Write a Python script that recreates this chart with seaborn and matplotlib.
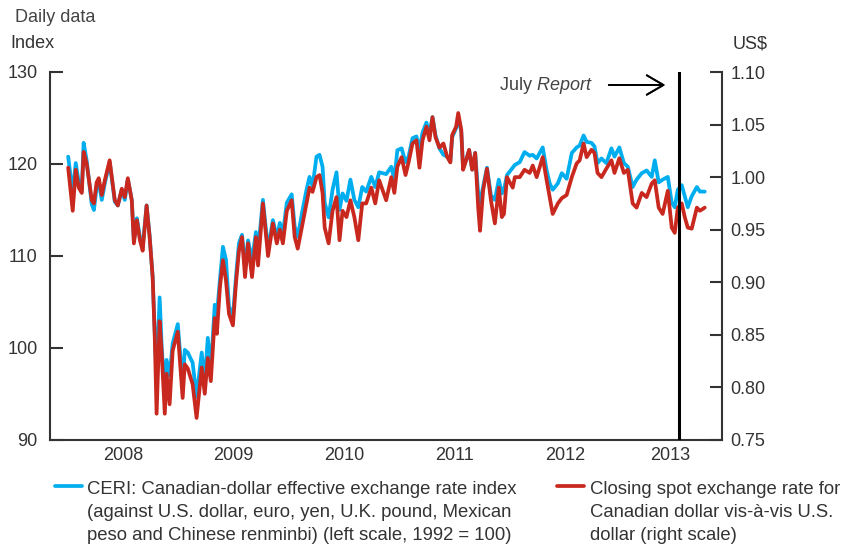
import numpy as np
import pandas as pd
import seaborn as sns
import matplotlib.pyplot as plt
import matplotlib.dates as mdates
from matplotlib.legend_handler import HandlerLine2D
from matplotlib.ticker import FixedLocator, FixedFormatter, NullFormatter, FormatStrFormatter

# values (roughly every 1-2 weeks)
dates = [
    '2008-01-02', '2008-01-17', '2008-01-27', '2008-02-06', '2008-02-16', '2008-02-22', '2008-03-03', '2008-03-20',
    '2008-03-27', '2008-04-05', '2008-04-12', '2008-04-22', '2008-05-02', '2008-05-18', '2008-06-04', '2008-06-14',
    '2008-06-27', '2008-07-07', '2008-07-17', '2008-07-30', '2008-08-06', '2008-08-16', '2008-08-26', '2008-09-04',
    '2008-09-17', '2008-09-27', '2008-10-07', '2008-10-14', '2008-10-20', '2008-10-30', '2008-11-06', '2008-11-16',
    '2008-11-22', '2008-12-02', '2008-12-12', '2008-12-29',
    '2009-01-14', '2009-01-21', '2009-01-31', '2009-02-16', '2009-03-01', '2009-03-18', '2009-03-28', '2009-04-07',
    '2009-04-17', '2009-04-30', '2009-05-07', '2009-05-17', '2009-05-27', '2009-06-06', '2009-06-16', '2009-06-29',
    '2009-07-09', '2009-07-19', '2009-07-29', '2009-08-08', '2009-08-18', '2009-08-31', '2009-09-13', '2009-09-20',
    '2009-10-06', '2009-10-23', '2009-11-08', '2009-11-21', '2009-12-01', '2009-12-11', '2009-12-24',
    '2010-01-09', '2010-01-19', '2010-01-29', '2010-02-14', '2010-02-27', '2010-03-09', '2010-03-19', '2010-04-01',
    '2010-04-11', '2010-04-21', '2010-04-28', '2010-05-11', '2010-05-24', '2010-06-06', '2010-06-16', '2010-06-26',
    '2010-07-09', '2010-07-22', '2010-08-04', '2010-08-17', '2010-08-30', '2010-09-12', '2010-09-29', '2010-10-12',
    '2010-10-25', '2010-11-17', '2010-12-04', '2010-12-14', '2010-12-24',
    '2011-01-07', '2011-01-20', '2011-01-30', '2011-02-12', '2011-02-25', '2011-03-07', '2011-03-17', '2011-03-30',
    '2011-04-09', '2011-04-19', '2011-04-29', '2011-05-12', '2011-05-25', '2011-06-07', '2011-06-17', '2011-06-23',
    '2011-07-06', '2011-07-13', '2011-07-23', '2011-07-29', '2011-08-08', '2011-08-18', '2011-08-28', '2011-09-07',
    '2011-09-17', '2011-09-23', '2011-10-03', '2011-10-16', '2011-10-29', '2011-11-11', '2011-11-24', '2011-12-04',
    '2011-12-11', '2011-12-21',
    '2012-01-09', '2012-01-16', '2012-02-01', '2012-02-17', '2012-03-05', '2012-03-15', '2012-03-28', '2012-04-17',
    '2012-04-30', '2012-05-10', '2012-05-20', '2012-06-06', '2012-06-19', '2012-07-05', '2012-07-22', '2012-08-07',
    '2012-08-17', '2012-08-30', '2012-09-09', '2012-09-25', '2012-10-05', '2012-10-15', '2012-10-28', '2012-11-13',
    '2012-11-30', '2012-12-10', '2012-12-26',
    '2013-01-10', '2013-01-23', '2013-02-08', '2013-02-21', '2013-03-10', '2013-03-26', '2013-04-12', '2013-04-22',
    '2013-05-05', '2013-05-18', '2013-06-04', '2013-06-17', '2013-06-27', '2013-07-07', '2013-07-20', '2013-07-30',
    '2013-08-09', '2013-08-22', '2013-09-08', '2013-09-18', '2013-10-04',
]

ceri = [
    120.8, 116.8, 120.1, 118.0, 117.2, 122.3, 120.4, 115.6, 115.0, 117.5, 118.0, 116.1, 117.9, 120.2, 115.9, 115.5,
    117.2, 116.1, 118.3, 116.1, 111.7, 114.1, 112.0, 111.0, 115.5, 112.2, 107.7, 101.6, 96.5, 105.5, 100.1, 95.1,
    98.7, 97.0, 100.5, 102.6,
    96.0, 99.8, 99.5, 98.4, 94.7, 99.5, 96.2, 101.1, 97.6, 104.7, 103.5, 107.4, 111.0, 109.6, 104.5, 103.4,
    107.7, 111.4, 112.3, 108.8, 111.7, 109.5, 112.6, 110.5, 116.1, 110.7, 113.9, 112.0, 113.6, 112.4, 115.8,
    116.7, 113.2, 112.1, 115.0, 117.2, 118.6, 117.6, 120.8, 121.0, 119.7, 115.8, 114.2, 117.2, 119.1, 115.0,
    116.8, 116.0, 118.3, 116.1, 115.3, 117.5, 117.0, 118.6, 117.5, 119.1, 118.9, 119.7, 118.3, 121.5,
    121.7, 120.2, 120.8, 122.8, 123.0, 121.5, 123.4, 124.5, 123.2, 125.1, 123.1, 121.7, 121.0, 120.8, 120.3,
    122.9, 123.9, 125.1, 123.5, 119.6, 120.4, 121.5, 119.4, 121.2, 116.8, 115.8, 117.5, 119.6, 116.6, 116.1,
    118.3, 116.8, 117.2, 118.8,
    119.6, 119.9, 120.2, 121.3, 120.9, 121.0, 120.6, 121.8, 119.3, 117.9, 117.2, 117.9, 119.0, 118.4, 121.2,
    121.8, 122.0, 123.1, 122.4, 122.3, 121.9, 120.1, 120.6, 120.1, 121.7, 120.8, 121.8,
    120.1, 119.7, 117.5, 118.3, 119.0, 119.3, 118.6, 120.4, 118.0, 118.3, 118.6, 115.8, 115.3, 117.2, 117.7,
    116.5, 115.3, 116.5, 117.5, 117.0, 117.0,
]

spot = [
    1.009, 0.968, 1.007, 0.990, 0.985, 1.024, 1.013, 0.978, 0.975, 0.995, 0.999, 0.983, 0.997, 1.016, 0.978, 0.973,
    0.989, 0.981, 0.999, 0.978, 0.937, 0.959, 0.940, 0.930, 0.973, 0.943, 0.905, 0.847, 0.775, 0.863, 0.832, 0.775,
    0.813, 0.784, 0.835, 0.853,
    0.790, 0.822, 0.818, 0.803, 0.771, 0.819, 0.794, 0.828, 0.806, 0.866, 0.851, 0.895, 0.921, 0.902, 0.870, 0.859,
    0.899, 0.930, 0.943, 0.905, 0.937, 0.905, 0.943, 0.916, 0.975, 0.925, 0.956, 0.937, 0.950, 0.937, 0.968,
    0.978, 0.943, 0.932, 0.956, 0.975, 0.990, 0.986, 1.000, 1.002, 0.985, 0.952, 0.937, 0.968, 0.981, 0.940,
    0.968, 0.962, 0.978, 0.962, 0.940, 0.975, 0.975, 0.990, 0.975, 0.997, 0.978, 1.000, 0.985, 1.010,
    1.019, 1.002, 1.014, 1.032, 1.035, 1.009, 1.035, 1.048, 1.035, 1.057, 1.038, 1.028, 1.032, 1.019, 1.014,
    1.040, 1.048, 1.061, 1.045, 1.007, 1.016, 1.026, 1.007, 1.023, 0.971, 0.949, 0.987, 1.008, 0.978, 0.956,
    0.990, 0.962, 0.965, 1.000,
    0.990, 1.000, 1.000, 1.007, 1.004, 1.011, 1.000, 1.019, 0.997, 0.981, 0.965, 0.975, 0.980, 0.983, 1.000,
    1.013, 1.016, 1.032, 1.019, 1.026, 1.023, 1.004, 1.000, 1.008, 1.016, 1.004, 1.018,
    1.004, 1.007, 0.975, 0.971, 0.985, 0.981, 0.994, 0.997, 0.971, 0.965, 0.987, 0.952, 0.947, 0.971, 0.975,
    0.962, 0.952, 0.951, 0.971, 0.968, 0.971,
]

left_ticks = [90, 100, 110, 120, 130]
right_ticks = [0.75, 0.80, 0.85, 0.90, 0.95, 1.00, 1.05, 1.10]
year_labels = ['2008', '2009', '2010', '2011', '2012', '2013']
year_label_pos = ['2008-07-01', '2009-07-01', '2010-07-01', '2011-07-01', '2012-07-01', '2013-06-12']
report_date = '2013-07-10'
x_range = ('2007-11-03', '2013-11-30')

ceri_label = ('CERI: Canadian-dollar effective exchange rate index\n'
              '(against U.S. dollar, euro, yen, U.K. pound, Mexican\n'
              'peso and Chinese renminbi) (left scale, 1992 = 100)')
spot_label = ('Closing spot exchange rate for\n'
              'Canadian dollar vis-\u00e0-vis U.S.\n'
              'dollar (right scale)')

blue = '#00aeef'
red = '#c8281e'
ink = '#333333'

sns.set_style('white')
plt.rcParams['font.family'] = ['Liberation Sans', 'DejaVu Sans']
plt.rcParams['mathtext.fontset'] = 'custom'
plt.rcParams['mathtext.rm'] = 'Liberation Sans'
plt.rcParams['mathtext.it'] = 'Liberation Sans:italic'
plt.rcParams['text.color'] = ink
fs = 13
leg_fs = 13.3
line_sp = 1.45


class FirstLineHandler(HandlerLine2D):
    # put the legend line next to the first text line instead of the middle one
    def create_artists(self, legend, orig_handle, xdescent, ydescent, width, height, fontsize, trans):
        artists = super().create_artists(legend, orig_handle, xdescent, ydescent, width, height, fontsize, trans)
        for a in artists:
            a.set_ydata(np.asarray(a.get_ydata()) + fontsize * line_sp)
        return artists


df = pd.DataFrame({'date': pd.to_datetime(dates), 'ceri': ceri, 'spot': spot})

W, H = 844, 548
fig = plt.figure(figsize=(W / 100, H / 100), dpi=100)
ax = fig.add_axes([50 / W, 108 / H, 672 / W, 368 / H])
ax2 = ax.twinx()

sns.lineplot(data=df, x='date', y='ceri', ax=ax, color=blue, lw=2.7, label=ceri_label, legend=False)
sns.lineplot(data=df, x='date', y='spot', ax=ax2, color=red, lw=2.7, label=spot_label, legend=False)
ax2.axvline(pd.Timestamp(report_date), color='black', lw=2.2, zorder=5)

ax.set_xlim(pd.Timestamp(x_range[0]), pd.Timestamp(x_range[1]))
ax.set_ylim(90, 130)
ax2.set_ylim(0.75, 1.10)
ax.set_yticks(left_ticks)
ax2.set_yticks(right_ticks)
ax2.yaxis.set_major_formatter(FormatStrFormatter('%.2f'))
ax.set_xlabel('')
ax.set_ylabel('')
ax2.set_ylabel('')

ax.xaxis.set_major_locator(mdates.YearLocator())
ax.xaxis.set_major_formatter(NullFormatter())
ax.xaxis.set_minor_locator(FixedLocator(mdates.date2num(pd.to_datetime(year_label_pos))))
ax.xaxis.set_minor_formatter(FixedFormatter(year_labels))

for a in (ax, ax2):
    a.spines['top'].set_visible(False)
    for s in a.spines.values():
        s.set_color(ink)
        s.set_linewidth(1.5)
ax.spines['right'].set_visible(False)
ax2.spines['left'].set_visible(False)
ax2.spines['bottom'].set_visible(False)

ax.tick_params(axis='y', direction='in', length=9, width=1.5, color=ink, labelsize=fs, labelcolor=ink, pad=9)
ax2.tick_params(axis='y', direction='in', length=9, width=1.5, color=ink, labelsize=fs, labelcolor=ink, pad=6)
ax.tick_params(axis='x', which='major', direction='in', length=7, width=1.5, color=ink)
ax.tick_params(axis='x', which='minor', length=0, labelsize=fs, labelcolor=ink, pad=5)

fig.text(15 / W, 1 - 17 / H, 'Daily data', fontsize=fs, va='center', color='#444444')
fig.text(10 / W, 1 - 44 / H, 'Index', fontsize=fs, va='center')
fig.text(733 / W, 1 - 44 / H, r'US\$', fontsize=fs, va='center')

fig.text(593 / W, 1 - 85 / H, r'July $\mathit{Report}$', fontsize=fs, ha='right', va='center', color='#444444')
fig.add_artist(plt.annotate('', xy=(668 / W, 1 - 85 / H), xytext=(606 / W, 1 - 85 / H),
                            xycoords='figure fraction', textcoords='figure fraction',
                            arrowprops=dict(arrowstyle='->, head_length=0.6, head_width=0.35',
                                            color='black', lw=1.3, mutation_scale=20)))

h1, _ = ax.get_legend_handles_labels()
h2, _ = ax2.get_legend_handles_labels()
leg = fig.legend(handles=h1 + h2, labels=[ceri_label, spot_label], loc='upper left',
                 bbox_to_anchor=(55 / W, 1 - 481 / H), ncol=2, frameon=False, fontsize=leg_fs,
                 handlelength=1.45, handletextpad=0.3, columnspacing=2.2,
                 borderpad=0, borderaxespad=0,
                 handler_map={h: FirstLineHandler() for h in h1 + h2})
for t in leg.get_texts():
    t.set_linespacing(line_sp)

fig.savefig('out.png', dpi=100)
